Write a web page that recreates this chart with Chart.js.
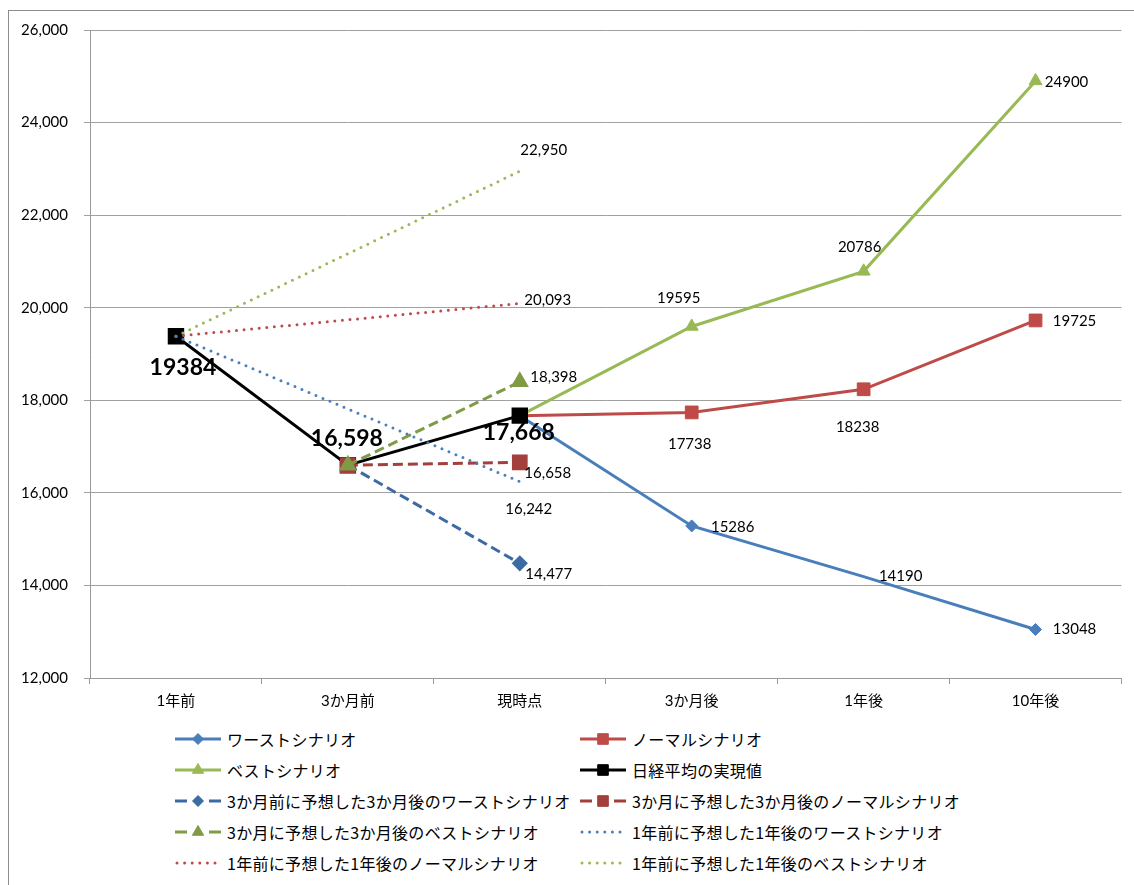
<!DOCTYPE html>
<html lang="ja">
<head>
<meta charset="utf-8">
<script src="https://cdn.jsdelivr.net/npm/chart.js@4"></script>
<style>
  body { margin: 0; background: #fff; }
  #frame { position: absolute; left: 8px; top: 10px; width: 1200px; height: 900px; border: 1px solid #8c8c8c; }
  #wrap { position: absolute; left: 0; top: 0; width: 1134px; height: 710px; }
  #legend { position: absolute; left: 175px; top: 723px; width: 900px; font-family: 'Noto Sans CJK JP', sans-serif; font-size: 16px; color: #000; }
  .item { position: absolute; height: 31px; display: flex; align-items: center; white-space: nowrap; letter-spacing: 0.3px; }
  .item canvas { margin-right: 6px; }
</style>
</head>
<body>
<div id="frame"></div>
<div id="wrap"><canvas id="lineChart" width="1134" height="710"></canvas></div>
<div id="legend"></div>
<script>
const categories = ['1年前', '3か月前', '現時点', '3か月後', '1年後', '10年後'];

const worstScenario  = [null, null, 17668, 15286, 14190, 13048];
const normalScenario = [null, null, 17668, 17738, 18238, 19725];
const bestScenario   = [null, null, 17668, 19595, 20786, 24900];
const nikkeiActual   = [19384, 16598, 17668, null, null, null];

const worst3m  = [null, 16598, 14477, null, null, null];
const normal3m = [null, 16598, 16658, null, null, null];
const best3m   = [null, 16598, 18398, null, null, null];

const worst1y  = [19384, null, 16242, null, null, null];
const normal1y = [19384, null, 20093, null, null, null];
const best1y   = [19384, null, 22950, null, null, null];

const yMin = 12000, yMax = 26000, yStep = 2000;

const BLUE = '#4a7ebb', RED = '#be4b48', GREEN = '#98b954';
const BLUE_D = '#3c6aa3', RED_D = '#a33f3c', GREEN_D = '#7f9b45';

// label placement relative to each point: [index, dx, dy, comma, bold]
const labelSpots = {
    worst:  [[3, 41, 1, false], [4, 37, 0, false], [5, 39, 0, false]],
    normal: [[3, -2, 32, false], [4, -6, 38, false], [5, 39, 1, false]],
    best:   [[3, -13, -28, false], [4, -4, -24, false], [5, 31, 1, false]],
    actual: [[0, 7, 31, false, true], [1, -1, -27, true, true], [2, -1, 17, true, true]],
    worst3m:  [[2, 29, 11, true]],
    normal3m: [[2, 28, 11, true]],
    best3m:   [[2, 34, -5, true]],
    worst1y:  [[2, 9, 28, true]],
    normal1y: [[2, 28, -3, true]],
    best1y:   [[2, 24, -21, true]]
};

function mainSet(key, label, data, color, style, radius, order, hideIdx) {
    return {
        key: key, label: label, data: data, order: order,
        borderColor: color, backgroundColor: color,
        borderWidth: 3, pointStyle: style, pointBorderWidth: 1,
        pointBorderColor: color, pointBackgroundColor: color,
        pointRadius: ctx => (ctx.dataIndex === 2 || hideIdx.includes(ctx.dataIndex)) ? 0 : radius
    };
}

const datasets = [
    mainSet('worst', 'ワーストシナリオ', worstScenario, BLUE, 'rectRot', 6, 10, [4]),
    mainSet('normal', 'ノーマルシナリオ', normalScenario, RED, 'rect', 9, 9, []),
    mainSet('best', 'ベストシナリオ', bestScenario, GREEN, 'triangle', 7.5, 8, []),
    {
        key: 'actual', label: '日経平均の実現値', data: nikkeiActual, order: 5,
        borderColor: '#000', backgroundColor: '#000', borderWidth: 3,
        pointStyle: 'rect', pointRadius: 9.5, pointBorderColor: '#000', pointBackgroundColor: '#000'
    },
    {
        key: 'worst3m', label: '3か月前に予想した3か月後のワーストシナリオ', data: worst3m, order: 3,
        borderColor: BLUE_D, backgroundColor: BLUE_D, borderWidth: 3, borderDash: [10, 5],
        pointStyle: 'rectRot', pointRadius: 6, pointBorderColor: BLUE_D, pointBackgroundColor: BLUE_D
    },
    {
        key: 'normal3m', label: '3か月に予想した3か月後のノーマルシナリオ', data: normal3m, order: 2,
        borderColor: RED_D, backgroundColor: RED_D, borderWidth: 3, borderDash: [10, 5],
        pointStyle: 'rect', pointRadius: 9, pointBorderColor: RED_D, pointBackgroundColor: RED_D
    },
    {
        key: 'best3m', label: '3か月に予想した3か月後のベストシナリオ', data: best3m, order: 1,
        borderColor: GREEN_D, backgroundColor: GREEN_D, borderWidth: 3, borderDash: [10, 5],
        pointStyle: 'triangle', pointRadius: 7.5, pointBorderColor: GREEN_D, pointBackgroundColor: GREEN_D
    },
    {
        key: 'worst1y', label: '1年前に予想した1年後のワーストシナリオ', data: worst1y, order: 0,
        borderColor: BLUE, borderWidth: 3, borderDash: [0, 7.6], borderCapStyle: 'round',
        pointRadius: 0, spanGaps: true
    },
    {
        key: 'normal1y', label: '1年前に予想した1年後のノーマルシナリオ', data: normal1y, order: 0,
        borderColor: RED, borderWidth: 3, borderDash: [0, 7.6], borderCapStyle: 'round',
        pointRadius: 0, spanGaps: true
    },
    {
        key: 'best1y', label: '1年前に予想した1年後のベストシナリオ', data: best1y, order: 0,
        borderColor: GREEN, borderWidth: 3, borderDash: [0, 7.6], borderCapStyle: 'round',
        pointRadius: 0, spanGaps: true
    }
];

const NUM_FONT = "Lato, 'Noto Sans CJK JP', sans-serif";

const pointLabels = {
    id: 'pointLabels',
    afterDatasetsDraw(chart) {
        const ctx = chart.ctx;
        ctx.save();
        ctx.textAlign = 'center';
        ctx.textBaseline = 'middle';
        ctx.fillStyle = '#000';
        chart.data.datasets.forEach((ds, i) => {
            const meta = chart.getDatasetMeta(i);
            (labelSpots[ds.key] || []).forEach(s => {
                const pt = meta.data[s[0]];
                const v = ds.data[s[0]];
                const txt = s[3] ? v.toLocaleString('en-US') : String(v);
                ctx.font = s[4] ? 'bold 23px ' + NUM_FONT : '15px ' + NUM_FONT;
                ctx.fillText(txt, pt.x + s[1], pt.y + s[2]);
            });
        });
        ctx.restore();
    }
};

Chart.defaults.font.family = NUM_FONT;
Chart.defaults.color = '#000';

const chart = new Chart(document.getElementById('lineChart').getContext('2d'), {
    type: 'line',
    data: { labels: categories, datasets: datasets },
    options: {
        responsive: false,
        animation: false,
        devicePixelRatio: 1,
        layout: { padding: { top: 30, right: 12, left: 0, bottom: 0 } },
        plugins: { legend: { display: false }, tooltip: { enabled: false } },
        elements: { line: { tension: 0 } },
        scales: {
            x: {
                offset: true,
                grid: { drawOnChartArea: false, drawTicks: true, tickLength: 6, color: '#999', offset: true },
                border: { color: '#999' },
                ticks: { padding: 8, font: { size: 15 } },
                afterFit: s => { s.height = 32; }
            },
            y: {
                min: yMin, max: yMax,
                grid: { color: '#a0a0a0', tickLength: 6 },
                border: { color: '#999' },
                ticks: { stepSize: yStep, padding: 16, font: { size: 15 }, callback: v => v.toLocaleString('en-US') },
                afterFit: s => { s.width = 90; }
            }
        }
    },
    plugins: [pointLabels]
});

// legend in two columns, built from the datasets
const legend = document.getElementById('legend');
datasets.forEach((ds, i) => {
    const item = document.createElement('div');
    item.className = 'item';
    item.style.left = (i % 2 ? 405 : 0) + 'px';
    item.style.top = (Math.floor(i / 2) * 31) + 'px';
    const c = document.createElement('canvas');
    c.width = 46; c.height = 20;
    const g = c.getContext('2d');
    g.strokeStyle = ds.borderColor;
    g.lineWidth = 3;
    g.lineCap = ds.borderCapStyle || 'butt';
    if (ds.borderDash && ds.borderDash[0] === 0) {
        g.setLineDash([0, 7.6]);
        g.beginPath(); g.moveTo(2, 10); g.lineTo(44, 10); g.stroke();
    } else if (ds.borderDash) {
        g.beginPath(); g.moveTo(0, 10); g.lineTo(12, 10); g.moveTo(34, 10); g.lineTo(46, 10); g.stroke();
    } else {
        g.beginPath(); g.moveTo(0, 10); g.lineTo(46, 10); g.stroke();
    }
    if (ds.pointStyle) {
        g.setLineDash([]);
        g.fillStyle = ds.pointBackgroundColor;
        g.strokeStyle = ds.pointBorderColor;
        g.lineWidth = 1;
        const r = ds.pointStyle === 'rect' ? 7.5 : (ds.pointStyle === 'triangle' ? 6.5 : 5.5);
        Chart.helpers.drawPoint(g, { pointStyle: ds.pointStyle, radius: r, rotation: 0, borderWidth: 1 }, 23, 10);
    }
    const t = document.createElement('span');
    t.textContent = ds.label;
    item.appendChild(c);
    item.appendChild(t);
    legend.appendChild(item);
});
</script>
</body>
</html>
